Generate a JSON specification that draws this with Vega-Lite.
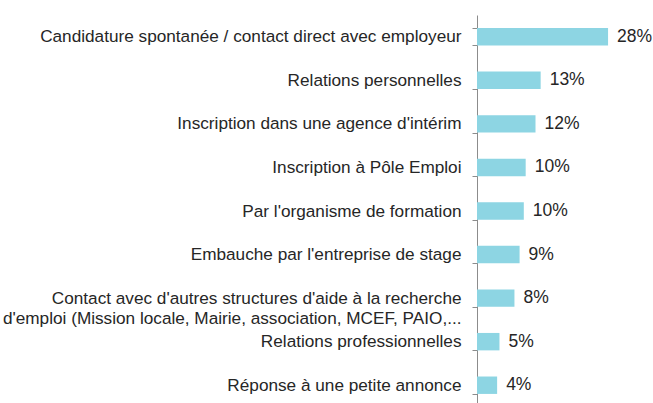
{
  "$schema": "https://vega.github.io/schema/vega-lite/v6.json",
  "autosize": "none",
  "width": 176,
  "height": 392,
  "padding": {"left": 477, "top": 15, "right": 0, "bottom": 0},
  "background": "white",
  "config": {"view": {"stroke": null}, "font": "Liberation Sans"},
  "data": {"values": [
    {"cat": "Candidature spontanée / contact direct avec employeur", "v": 28, "lbl": "28%"},
    {"cat": "Relations personnelles", "v": 13.6, "lbl": "13%"},
    {"cat": "Inscription dans une agence d'intérim", "v": 12.5, "lbl": "12%"},
    {"cat": "Inscription à Pôle Emploi", "v": 10.4, "lbl": "10%"},
    {"cat": "Par l'organisme de formation", "v": 10, "lbl": "10%"},
    {"cat": "Embauche par l'entreprise de stage", "v": 9.1, "lbl": "9%"},
    {"cat": "Contact avec d'autres structures d'aide à la recherche|d'emploi (Mission locale, Mairie, association, MCEF, PAIO,...", "v": 8, "lbl": "8%"},
    {"cat": "Relations professionnelles", "v": 4.8, "lbl": "5%"},
    {"cat": "Réponse à une petite annonce", "v": 4.3, "lbl": "4%"}
  ]},
  "encoding": {
    "y": {"field": "cat", "type": "nominal", "sort": null,
      "scale": {"paddingInner": 0.6, "paddingOuter": 0.3},
      "axis": {"title": null, "tickBand": "extent", "tickSize": 5, "tickColor": "#8c8c8c", "domainColor": "#8c8c8c",
        "labelFontSize": 17.2, "labelColor": "#262626", "labelPadding": 11, "labelLimit": 0,
        "labelBaseline": "middle", "labelLineHeight": 20.5, "labelExpr": "split(datum.label, '|')"}},
    "x": {"field": "v", "type": "quantitative", "scale": {"domain": [0, 37.6]}, "axis": null}
  },
  "layer": [
    {"mark": {"type": "bar", "color": "#8dd5e3"}},
    {"mark": {"type": "text", "align": "left", "dx": 9, "fontSize": 17.5, "color": "#262626"}, "encoding": {"text": {"field": "lbl"}}}
  ]
}
